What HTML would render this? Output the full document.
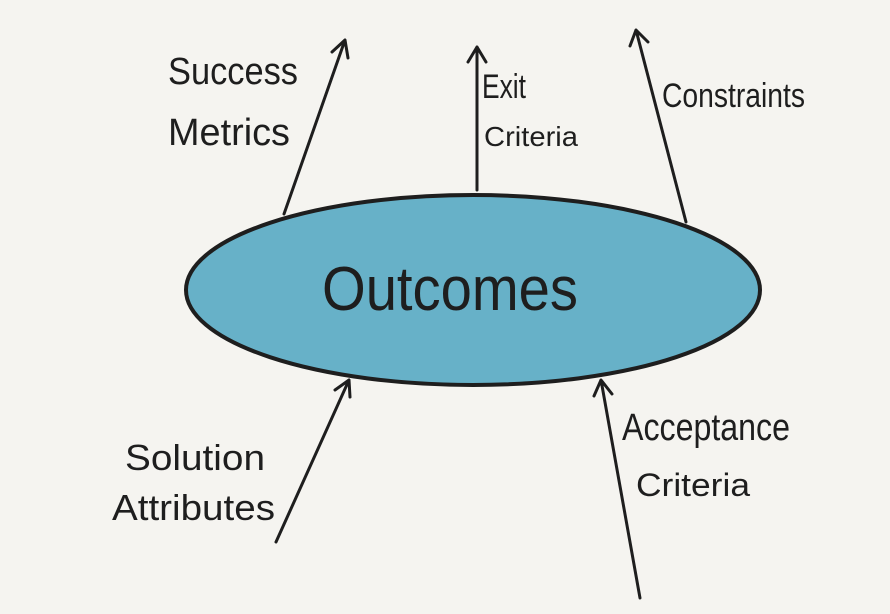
<!DOCTYPE html>
<html><head><meta charset="utf-8"><style>
html,body{margin:0;padding:0;background:#f5f4f0;}
svg{display:block}
text{font-family:"Liberation Sans",sans-serif;fill:#1e1e1e;font-weight:normal}
</style></head><body>
<svg width="890" height="614" viewBox="0 0 890 614" xmlns="http://www.w3.org/2000/svg">
<rect width="890" height="614" fill="#f5f4f0"/>
<ellipse cx="473" cy="290" rx="287" ry="95" fill="#67b1c8" stroke="#1e1e1e" stroke-width="4"/>
<g stroke="#1e1e1e" stroke-width="3" fill="none" stroke-linecap="round" stroke-linejoin="round">
<path d="M284 214 L345 40 M332 52 L345 40 L348 58"/>
<path d="M477 190 L477 47 M468 62 L477 47 L486 62"/>
<path d="M686 222 L636 30 M630 46 L636 30 L648 42"/>
<path d="M276 542 L349 380 M335 390 L349 380 L350 397"/>
<path d="M640 598 L601 380 M594 396 L601 380 L612 394"/>
</g>
<text x="168" y="84" font-size="38" textLength="130" lengthAdjust="spacingAndGlyphs">Success</text>
<text x="168" y="145" font-size="38" textLength="122" lengthAdjust="spacingAndGlyphs">Metrics</text>
<text x="482" y="98" font-size="34" textLength="44" lengthAdjust="spacingAndGlyphs">Exit</text>
<text x="484" y="146" font-size="28" textLength="94" lengthAdjust="spacingAndGlyphs">Criteria</text>
<text x="662" y="107" font-size="34" textLength="143" lengthAdjust="spacingAndGlyphs">Constraints</text>
<text x="322" y="310" font-size="62" textLength="256" lengthAdjust="spacingAndGlyphs">Outcomes</text>
<text x="125" y="470" font-size="36" textLength="140" lengthAdjust="spacingAndGlyphs">Solution</text>
<text x="112" y="520" font-size="36" textLength="163" lengthAdjust="spacingAndGlyphs">Attributes</text>
<text x="622" y="440" font-size="38" textLength="168" lengthAdjust="spacingAndGlyphs">Acceptance</text>
<text x="636" y="496" font-size="32" textLength="114" lengthAdjust="spacingAndGlyphs">Criteria</text>
</svg>
</body></html>
